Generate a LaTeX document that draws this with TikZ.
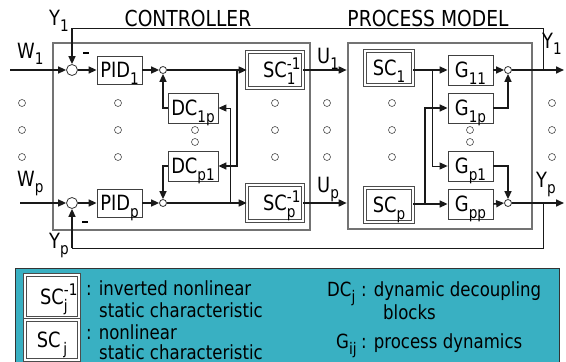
\documentclass[tikz,border=0pt]{standalone}
\usepackage{fontspec}
\setmainfont{DejaVu Sans}[FakeStretch=0.85]
\usepackage{graphicx}
\usetikzlibrary{arrows.meta}
\definecolor{legteal}{RGB}{57,176,194}
\newcommand{\subfs}{\fontsize{16}{16}\selectfont}
\newcommand{\sbt}[1]{\raisebox{-6.5pt}[0pt][0pt]{\subfs #1}}
\newcommand{\supsb}[2]{%
  \setbox0=\hbox{\subfs #1}%
  \setbox2=\hbox{\subfs #2}%
  \ifdim\wd0>\wd2 \dimen0=\wd0 \else \dimen0=\wd2 \fi
  \rlap{\raisebox{8.5pt}[0pt][0pt]{\copy0}}\rlap{\raisebox{-7pt}[0pt][0pt]{\copy2}}\hspace{\dimen0}}
\begin{document}
\begin{tikzpicture}[x=1pt,y=-1pt,
  blk/.style={draw=black!75, line width=0.8pt, fill=white, minimum width=45pt, minimum height=28pt, inner sep=0pt, font=\fontsize{21}{21}\selectfont},
  dblk/.style={blk, draw=black!70, double=white, double distance=2pt, line width=0.7pt},
  cont/.style={draw=black!55, line width=2.6pt, inner sep=0pt},
  wire/.style={line width=1.6pt, draw=black!90},
  thinw/.style={line width=0.9pt, draw=black!90},
  arr/.style={-{Triangle[length=8pt,width=7pt]}},
  sumc/.style={circle, draw=black!80, line width=0.8pt, fill=white, minimum size=11pt, inner sep=0pt},
  junc/.style={circle, draw=black!80, line width=0.8pt, fill=white, minimum size=7pt, inner sep=0pt},
  dotc/.style={circle, draw=black!70, line width=0.6pt, minimum size=7pt, inner sep=0pt},
  lbl/.style={anchor=base west, inner sep=0pt, font=\fontsize{21}{21}\selectfont},
  ttl/.style={anchor=base, inner sep=0pt, font=\fontsize{22}{22}\selectfont},
  leg/.style={anchor=base west, inner sep=0pt, font=\fontsize{19.5}{20}\selectfont}
]
\clip (0,0) rectangle (566,362);
\fill[white] (0,0) rectangle (566,362);

% containers
\node[cont, minimum width=257pt, minimum height=187pt] (ctrl) at (181.5,136.5) {};
\node[cont, minimum width=184pt, minimum height=186pt] (proc) at (440,136) {};

% titles
\node[ttl] (tctrl) at (188,26) {CONTROLLER};
\node[ttl] (tproc) at (428,26) {PROCESS MODEL};

% summing junctions
\node[sumc] (in1) at (72,70) {};
\node[sumc] (inp) at (72,203) {};
\node[junc] (c1) at (163,70) {};
\node[junc] (cp) at (163,203) {};
\node[junc] (s1) at (508,70) {};
\node[junc] (sp) at (508,203) {};

% controller blocks
\node[blk] (pid1) at (119.5,70) {PID\sbt{1}};
\node[blk] (pidp) at (119.5,203) {PID\sbt{p}};
\node[blk, minimum width=50pt, minimum height=30pt] (dc1p) at (193,108) {DC\sbt{1p}};
\node[blk, minimum width=50pt, minimum height=30pt] (dcp1) at (193,166) {DC\sbt{p1}};
\node[dblk, minimum width=56pt, minimum height=36pt] (sc1i) at (275,70) {SC\supsb{-1}{1}};
\node[dblk, minimum width=56pt, minimum height=36pt] (scpi) at (275,203) {SC\supsb{-1}{p}};

% process blocks
\node[dblk, minimum width=48pt, minimum height=34pt] (sc1) at (389,68) {SC\sbt{1}};
\node[dblk, minimum width=48pt, minimum height=34pt] (scp) at (389,205) {SC\sbt{p}};
\node[blk, minimum height=30pt] (g11) at (470.5,70) {G\sbt{11}};
\node[blk, minimum height=30pt] (g1p) at (470.5,108) {G\sbt{1p}};
\node[blk, minimum height=30pt] (gp1) at (470.5,166) {G\sbt{p1}};
\node[blk, minimum height=30pt] (gpp) at (470.5,204) {G\sbt{pp}};

% ellipsis dots
\foreach \x/\n in {22/a,118/b,275/c,327/d,392/e,552/f}
  \foreach \y/\m in {103/1,130/2,157/3}
    \node[dotc] (d\n\m) at (\x,\y) {};
\node[dotc] (ddc1) at (195,130) {};
\node[dotc] (ddc2) at (195,142) {};
\node[dotc] (dg1) at (470,130) {};
\node[dotc] (dg2) at (470,142) {};

% coordinates
\coordinate (w1) at (10,70);
\coordinate (wp) at (20,203);
\coordinate (b1) at (237,70);
\coordinate (bp) at (230,203);
\coordinate (pb1) at (432,70);
\coordinate (pbp) at (425,203);
\coordinate (y1o) at (564,70);
\coordinate (ypo) at (564,203);
\coordinate (fb1) at (543,70);
\coordinate (fbp) at (543,203);
\coordinate (fb1c) at (72,28);
\coordinate (fbpc) at (72,248);

% controller wiring
\draw[wire,arr] (w1) -- (in1.west);
\draw[wire,arr] (wp) -- (inp.west);
\draw[wire,arr] (in1.east) -- (pid1.west);
\draw[wire,arr] (inp.east) -- (pidp.west);
\draw[wire,arr] (pid1.east) -- (c1.west);
\draw[wire,arr] (pidp.east) -- (cp.west);
\draw[wire,arr] (c1.east) -- (sc1i.west);
\draw[wire,arr] (cp.east) -- (scpi.west);
\draw[wire,arr] (b1) |- (dcp1.east);
\draw[thinw,arr] (bp) |- (dc1p.east);
\draw[wire,arr] (dc1p.west) -| (c1.south);
\draw[wire,arr] (dcp1.west) -| (cp.north);

% controller -> process
\draw[wire,arr] (sc1i.east) -- (sc1i.east -| proc.west);
\draw[wire,arr] (scpi.east) -- (scpi.east -| proc.west);

% process wiring
\draw[wire,arr] (sc1.east |- g11.west) -- (g11.west);
\draw[wire,arr] (scp.east |- gpp.west) -- (gpp.west);
\draw[thinw,arr] (pb1) |- (gp1.west);
\draw[wire,arr] (pbp) |- (g1p.west);
\draw[wire,arr] (g11.east) -- (s1.west);
\draw[wire,arr] (gpp.east) -- (sp.west);
\draw[wire,arr] (g1p.east) -| (s1.south);
\draw[wire,arr] (gp1.east) -| (sp.north);
\draw[wire,arr] (s1.east) -- (y1o);
\draw[wire,arr] (sp.east) -- (ypo);

% feedback
\draw[thinw] (fb1) |- (fb1c);
\draw[wire,arr] (fb1c) -- (in1.north);
\draw[thinw] (fbp) |- (fbpc);
\draw[wire,arr] (fbpc) -- (inp.south);

% minus signs
\node[inner sep=0pt] (m1) at (86,53) {\rule{6pt}{2.6pt}};
\node[inner sep=0pt] (mp) at (85,222) {\rule{6pt}{2.6pt}};

% signal labels
\node[lbl] (ly1) at (49,25) {Y\sbt{1}};
\node[lbl] (lw1) at (17,58) {W\sbt{1}};
\node[lbl] (lwp) at (17,186) {W\sbt{p}};
\node[lbl] (lyp) at (49,248) {Y\sbt{p}};
\node[lbl] (lu1) at (317,63) {U\sbt{1}};
\node[lbl] (lup) at (317,192) {U\sbt{p}};
\node[lbl] (ry1) at (542,48) {Y\sbt{1}};
\node[lbl] (ryp) at (536,187) {Y\sbt{p}};

% legend
\node[draw=black!80, line width=1pt, fill=legteal, minimum width=544pt, minimum height=110pt, inner sep=0pt] (legend) at (287,323) {};
\node[dblk, minimum width=54pt, minimum height=43pt] (lsci) at (52,296.5) {SC\supsb{-1}{j}};
\node[dblk, minimum width=54pt, minimum height=40pt] (lsc) at (52,340) {SC\sbt{\,j}};
\node[leg] (t1) at (86,295) {: inverted nonlinear};
\node[leg] (t2) at (99,317) {static characteristic};
\node[leg] (t3) at (86,339) {: nonlinear};
\node[leg] (t4) at (99,359) {static characteristic};
\node[leg] (t5) at (327,296) {DC\sbt{j}};
\node[leg] (t6) at (361,296) {: dynamic decoupling};
\node[leg] (t7) at (383,319) {blocks};
\node[leg] (t8) at (336,348) {G\sbt{ij}};
\node[leg] (t9) at (361,348) {: process dynamics};
\end{tikzpicture}
\end{document}
